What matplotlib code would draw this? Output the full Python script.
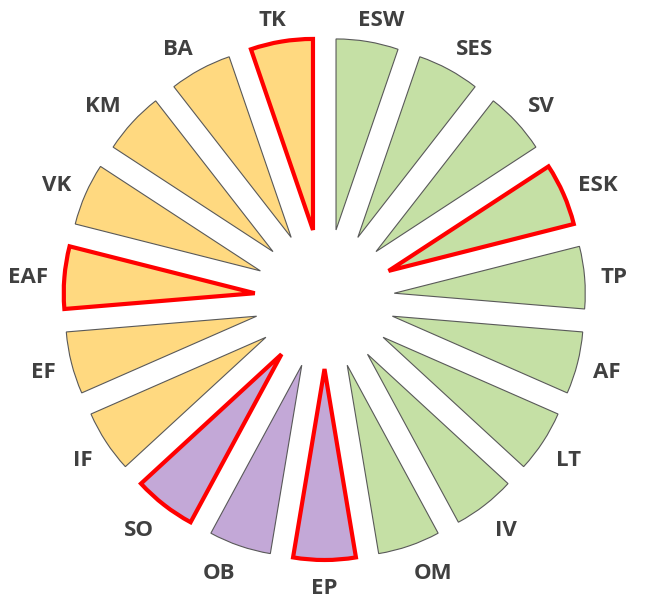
import numpy as np
import matplotlib.pyplot as plt

# Segments clockwise from the top
labels = ['ESW', 'SES', 'SV', 'ESK', 'TP', 'AF', 'LT', 'IV', 'OM',
          'EP', 'OB', 'SO',
          'IF', 'EF', 'EAF', 'VK', 'KM', 'BA', 'TK']
groups = ['green'] * 9 + ['purple'] * 3 + ['yellow'] * 7
highlighted = ['ESK', 'EP', 'SO', 'EAF', 'TK']
sizes = [1] * len(labels)

group_colors = {'green': '#C5E0A5', 'purple': '#C3A8D7', 'yellow': '#FFD980'}
colors = [group_colors[g] for g in groups]

fig = plt.figure(figsize=(6.47, 6.0), dpi=100)
ax = fig.add_axes([0, 0, 1, 1])

R_px = 191.0
fsize = 16
explode = [70.0 / R_px] * len(labels)
wedges, texts = ax.pie(sizes, labels=labels, colors=colors, explode=explode,
                       startangle=90, counterclock=False, radius=1.0,
                       labeldistance=1.13,
                       wedgeprops=dict(edgecolor='#595959', linewidth=0.8),
                       textprops=dict(fontsize=fsize, fontweight='bold',
                                      color='#404040', family=['Open Sans', 'DejaVu Sans']))

for w, lab in zip(wedges, labels):
    if lab in highlighted:
        w.set_edgecolor('#FF0000')
        w.set_linewidth(3.0)
        w.set_joinstyle('miter')
        w.set_zorder(3)

cx, cy = 324.5, 299.0
ax.set_xlim(-cx / R_px, (647 - cx) / R_px)
ax.set_ylim(-(600 - cy) / R_px, cy / R_px)
ax.set_aspect('equal')
ax.axis('off')

# label placement: anchor on a circle, box pushed outwards (office-style)
fig.canvas.draw()
renderer = fig.canvas.get_renderer()
r_lab = 277.0
cap = 0.714 * fsize * 100 / 72.0
for w, t in zip(wedges, texts):
    t.set_ha('center')
    t.set_va('baseline')
    ang = np.deg2rad(0.5 * (w.theta1 + w.theta2))
    ux, uy = np.cos(ang), np.sin(ang)
    bw = t.get_window_extent(renderer).width
    h_eff = cap if uy > 0 else cap * 1.3
    px = r_lab * ux + 0.5 * bw * np.clip(3 * ux, -1, 1)
    py = r_lab * uy + 0.5 * h_eff * np.clip(1.4 * uy, -1, 1)
    t.set_position((px / R_px, (py - cap / 2) / R_px))

plt.savefig('out.png', dpi=100)
